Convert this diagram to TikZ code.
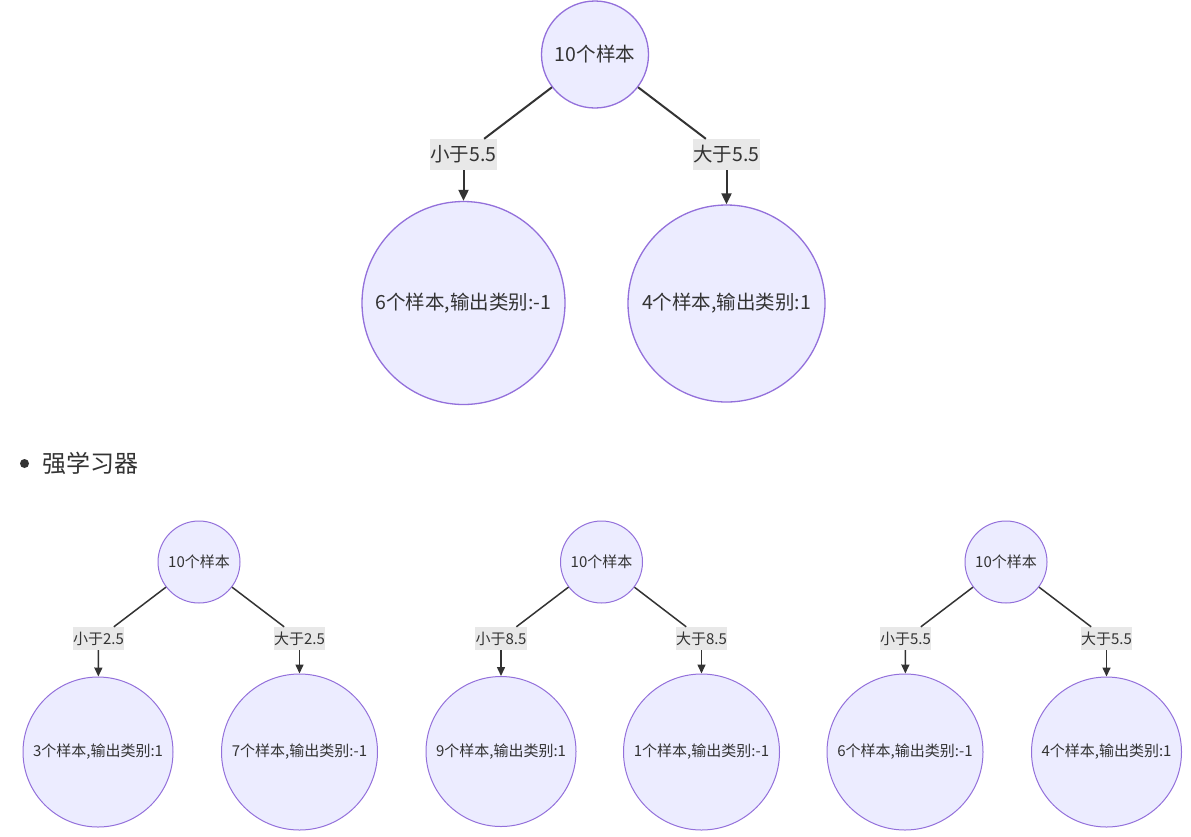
\documentclass[tikz,border=0pt]{standalone}
\usepackage{fontspec}
\setmainfont{Noto Sans CJK SC}
\usetikzlibrary{arrows.meta}
\definecolor{nodefill}{HTML}{ECECFF}
\definecolor{nodeline}{HTML}{9370DB}
\definecolor{lblfill}{HTML}{E8E8E8}
\definecolor{ink}{HTML}{333333}
\tikzset{
  bignode/.style={circle, draw=nodeline, fill=nodefill, line width=1.3pt, inner sep=0pt, text=ink,
    font=\fontsize{19.5}{20}\selectfont, minimum size=#1},
  smallnode/.style={circle, draw=nodeline, fill=nodefill, line width=1pt, inner sep=0pt, text=ink,
    font=\fontsize{15}{16}\selectfont, minimum size=#1},
  biglbl/.style={fill=lblfill, inner xsep=0.5pt, inner ysep=0pt, minimum height=31pt, text=ink,
    font=\fontsize{19.5}{20}\selectfont},
  smalllbl/.style={fill=lblfill, inner xsep=0.5pt, inner ysep=0pt, minimum height=23pt, text=ink,
    font=\fontsize{15}{16}\selectfont},
  bigedge/.style={draw=ink, line width=2pt},
  bigarrow/.style={draw=ink, line width=2pt, -{Triangle[length=11pt,width=10pt]}},
  smalledge/.style={draw=ink, line width=1.5pt},
  smallarrow/.style={draw=ink, line width=1.5pt, -{Triangle[length=9pt,width=8pt]}},
}
\begin{document}
\begin{tikzpicture}[x=1pt,y=-1pt]
\useasboundingbox (0,0) rectangle (1191,836);
\fill[white] (0,0) rectangle (1191,836);

% ---- top tree ----
\node[bignode=107pt] (t0) at (595,54.5) {10个样本};
\node[bignode=203pt] (tl) at (463.5,303) {6个样本,输出类别:-1};
\node[bignode=197pt] (tr) at (726.5,303.5) {4个样本,输出类别:1};
\node[biglbl] (tll) at (463.5,154.5) {小于5.5};
\node[biglbl] (trl) at (726.5,154.5) {大于5.5};
\draw[bigedge] (t0) -- (tll);
\draw[bigedge] (t0) -- (trl);
\draw[bigarrow] (tll) -- (tl);
\draw[bigarrow] (trl) -- (tr);

% ---- bullet ----
\node[circle, fill=ink, inner sep=0pt, minimum size=9pt] (bul) at (24.5,463.5) {};
\node[anchor=west, text=ink, font=\fontsize{24}{26}\selectfont, inner sep=0pt] (bt) at (42,463.5) {强学习器};

% ---- bottom tree 1 ----
\node[smallnode=82pt] (a0) at (199,562) {10个样本};
\node[smallnode=150pt] (al) at (98,752) {3个样本,输出类别:1};
\node[smallnode=156pt] (ar) at (299.5,752) {7个样本,输出类别:-1};
\node[smalllbl] (all) at (98.5,638.5) {小于2.5};
\node[smalllbl] (arl) at (299.5,638.5) {大于2.5};
\draw[smalledge] (a0) -- (all);
\draw[smalledge] (a0) -- (arl);
\draw[smallarrow] (all) -- (al);
\draw[smallarrow] (arl) -- (ar);

% ---- bottom tree 2 ----
\node[smallnode=82pt] (b0) at (601.5,562) {10个样本};
\node[smallnode=150pt] (bl) at (501,751.5) {9个样本,输出类别:1};
\node[smallnode=156pt] (br) at (701.5,752) {1个样本,输出类别:-1};
\node[smalllbl] (bll) at (501,638.5) {小于8.5};
\node[smalllbl] (brl) at (701.5,638.5) {大于8.5};
\draw[smalledge] (b0) -- (bll);
\draw[smalledge] (b0) -- (brl);
\draw[smallarrow] (bll) -- (bl);
\draw[smallarrow] (brl) -- (br);

% ---- bottom tree 3 ----
\node[smallnode=82pt] (c0) at (1006,562) {10个样本};
\node[smallnode=156pt] (cl) at (905,752) {6个样本,输出类别:-1};
\node[smallnode=150pt] (cr) at (1106.5,752) {4个样本,输出类别:1};
\node[smalllbl] (cll) at (905.5,638.5) {小于5.5};
\node[smalllbl] (crl) at (1106.5,638.5) {大于5.5};
\draw[smalledge] (c0) -- (cll);
\draw[smalledge] (c0) -- (crl);
\draw[smallarrow] (cll) -- (cl);
\draw[smallarrow] (crl) -- (cr);
\end{tikzpicture}
\end{document}
